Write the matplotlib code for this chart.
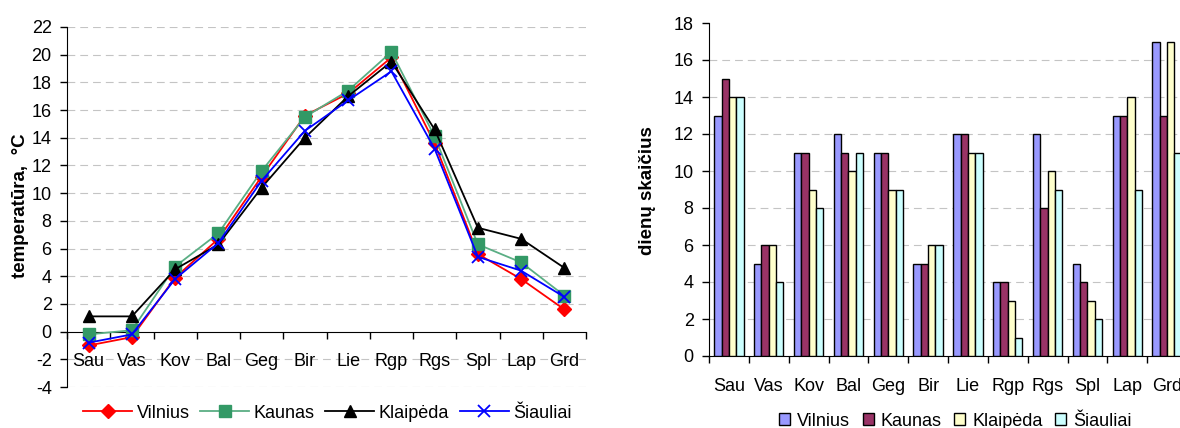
import matplotlib
matplotlib.use("Agg")
import matplotlib.pyplot as plt
import numpy as np
from matplotlib.patches import Patch

plt.rcParams['font.family'] = ['Liberation Sans', 'DejaVu Sans']
plt.rcParams['axes.unicode_minus'] = False

months = ["Sau", "Vas", "Kov", "Bal", "Geg", "Bir", "Lie", "Rgp", "Rgs", "Spl", "Lap", "Grd"]
cities = ["Vilnius", "Kaunas", "Klaipėda", "Šiauliai"]

# Temperature, °C
temp_vilnius = [-1.0, -0.4, 3.9, 6.7, 11.2, 15.6, 17.2, 19.8, 13.6, 5.6, 3.8, 1.6]
temp_kaunas = [-0.2, 0.1, 4.7, 7.1, 11.6, 15.5, 17.4, 20.2, 14.1, 6.3, 5.0, 2.6]
temp_klaipeda = [1.1, 1.1, 4.5, 6.3, 10.4, 14.0, 17.0, 19.5, 14.6, 7.5, 6.7, 4.6]
temp_siauliai = [-0.8, -0.2, 3.8, 6.4, 10.9, 14.5, 16.7, 18.8, 13.2, 5.4, 4.4, 2.5]

# Number of days
days_vilnius = [13, 5, 11, 12, 11, 5, 12, 4, 12, 5, 13, 17]
days_kaunas = [15, 6, 11, 11, 11, 5, 12, 4, 8, 4, 13, 13]
days_klaipeda = [14, 6, 9, 10, 9, 6, 11, 3, 10, 3, 14, 17]
days_siauliai = [14, 4, 8, 11, 9, 6, 11, 1, 9, 2, 9, 11]

W, H = 1180, 428
fig = plt.figure(figsize=(W / 100, H / 100), dpi=100)

FS = 13
grid_kw = dict(color='#c4c4c4', linewidth=0.8, linestyle=(0, (7, 4.5)))

# ---------------- Left: line chart ----------------
ax1 = fig.add_axes([67 / W, 1 - 387 / H, 519 / W, 360 / H])
x = np.arange(len(months))
styles = [
    (temp_vilnius, dict(color='#ff0000', marker='D', markersize=7.5, markerfacecolor='#ff0000', markeredgecolor='#ff0000')),
    (temp_kaunas, dict(color='#5aae84', marker='s', markersize=8, markerfacecolor='#339966', markeredgecolor='#339966')),
    (temp_klaipeda, dict(color='#000000', marker='^', markersize=8.5, markerfacecolor='#000000', markeredgecolor='#000000')),
    (temp_siauliai, dict(color='#0000ff', marker='x', markersize=8.5, markeredgecolor='#0000ff', markeredgewidth=1.3)),
]
handles1 = []
for (vals, st), name in zip(styles, cities):
    ln, = ax1.plot(x, vals, linewidth=1.3, label=name, zorder=3, clip_on=False, **st)
    handles1.append(ln)

ax1.set_xlim(-0.5, len(months) - 0.5)
ax1.set_ylim(-4, 22)
ax1.set_yticks(np.arange(-4, 23, 2))
for yv in np.arange(-4, 23, 2):
    if yv != 0:
        ax1.axhline(yv, zorder=0, **grid_kw)
ax1.spines['top'].set_visible(False)
ax1.spines['right'].set_visible(False)
ax1.spines['bottom'].set_position(('data', 0))
ax1.spines['bottom'].set_zorder(2)
ax1.set_xticks(np.arange(len(months) + 1) - 0.5)
ax1.set_xticklabels([])
ax1.set_xticks(x, minor=True)
ax1.set_xticklabels(months, minor=True)
ax1.tick_params(axis='x', which='major', direction='out', length=5, width=1)
ax1.tick_params(axis='x', which='minor', length=0, pad=15.5, labelsize=FS)
ax1.tick_params(axis='y', direction='out', length=5, width=1, pad=6, labelsize=FS)
ax1.set_facecolor('none')

fig.text(21 / W, 1 - 206 / H, "temperatūra,  °C", rotation=90, ha='center', va='center',
         fontsize=13.5, fontweight='bold')

fig.legend(handles=handles1, labels=cities, loc='center', bbox_to_anchor=(327.5 / W, 1 - 413 / H),
           ncol=4, frameon=False, fontsize=FS, handlelength=2.7, handletextpad=0.25,
           columnspacing=0.6, borderaxespad=0, borderpad=0)

# ---------------- Right: bar chart ----------------
ax2 = fig.add_axes([709 / W, 1 - 356 / H, 478 / W, 333 / H])
bar_colors = ['#9999ff', '#993366', '#ffffcc', '#ccffff']
series = [days_vilnius, days_kaunas, days_klaipeda, days_siauliai]
bw = 0.185
handles2 = []
for i, (vals, c, name) in enumerate(zip(series, bar_colors, cities)):
    ax2.bar(x + (i - 1.5) * bw, vals, width=bw, color=c, edgecolor='#000000',
            linewidth=1.0, zorder=3, label=name)
    handles2.append(Patch(facecolor=c, edgecolor='#000000', linewidth=1.0))

ax2.set_xlim(-0.5, len(months) - 0.5)
ax2.set_ylim(0, 18)
ax2.set_yticks(np.arange(0, 19, 2))
for yv in np.arange(2, 17, 2):
    ax2.axhline(yv, zorder=0, **grid_kw)
ax2.spines['top'].set_visible(False)
ax2.spines['right'].set_visible(False)
ax2.set_xticks(np.arange(len(months) + 1) - 0.5)
ax2.set_xticklabels([])
ax2.set_xticks(x, minor=True)
ax2.set_xticklabels(months, minor=True)
ax2.tick_params(axis='x', which='major', direction='out', length=5, width=1)
ax2.tick_params(axis='x', which='minor', length=0, pad=15.5, labelsize=FS)
ax2.tick_params(axis='y', direction='out', length=5, width=1, pad=6, labelsize=FS)
ax2.set_facecolor('none')

fig.text(648 / W, 1 - 191 / H, "dienų skaičius", rotation=90, ha='center', va='center',
         fontsize=13.5, fontweight='bold')

fig.legend(handles=handles2, labels=cities, loc='center', bbox_to_anchor=(955.5 / W, 1 - 421 / H),
           ncol=4, frameon=False, fontsize=FS, handlelength=0.6, handleheight=0.6,
           handletextpad=0.4, columnspacing=0.7, borderaxespad=0, borderpad=0)

fig.savefig("out.png", dpi=100, facecolor='white')
